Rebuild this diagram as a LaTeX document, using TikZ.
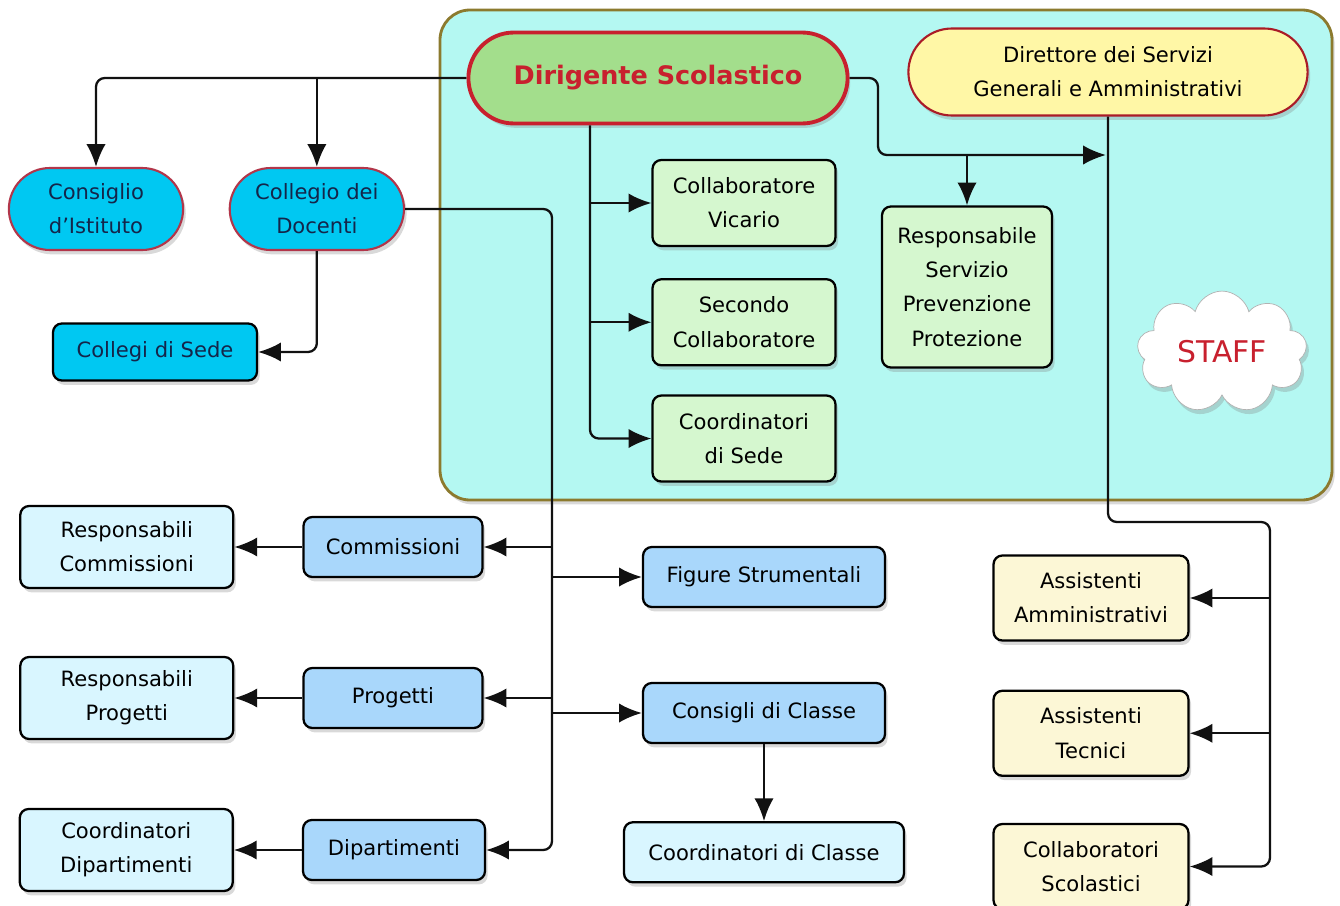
\documentclass[tikz,border=0pt]{standalone}
\usepackage{fontspec}
\setmainfont{DejaVu Sans}
\usepackage{tikz}
\usetikzlibrary{shapes.misc, shapes.symbols, arrows.meta, positioning, calc, shadows}
\definecolor{staffbg}{HTML}{B4F8F2}
\definecolor{staffline}{HTML}{8C7A2E}
\definecolor{headgreen}{HTML}{A3DE8C}
\definecolor{headred}{HTML}{C8202E}
\definecolor{dsgayellow}{HTML}{FFF7A6}
\definecolor{organcyan}{HTML}{00C8F2}
\definecolor{organline}{HTML}{B2364A}
\definecolor{inkblue}{HTML}{14254A}
\definecolor{staffgreen}{HTML}{D5F7CF}
\definecolor{areablue}{HTML}{A9D7FB}
\definecolor{respblue}{HTML}{D9F6FF}
\definecolor{atacream}{HTML}{FCF7D6}
\definecolor{darkgray}{HTML}{111111}
\tikzset{
  base/.style={
    align=center, text=black, font=\fontsize{12}{19.5}\selectfont,
    drop shadow={opacity=0.3, shadow xshift=1.5pt, shadow yshift=-2.5pt},
  },
  head/.style={
    base, rounded rectangle, draw=headred, line width=2.2pt, fill=headgreen,
    minimum width=7.82cm, minimum height=1.82cm,
    text=headred, font=\fontsize{14.5}{17}\selectfont\bfseries,
  },
  dsga/.style={
    base, rounded rectangle, draw=headred!85!black, line width=1.2pt,
    fill=dsgayellow, minimum width=8.22cm, minimum height=1.74cm,
  },
  organ/.style={
    base, rounded rectangle, draw=organline, line width=1.2pt,
    fill=organcyan, text=inkblue, minimum width=3.72cm, minimum height=1.64cm,
  },
  plainbox/.style={
    base, rectangle, rounded corners=5pt, draw=black, line width=1.3pt,
  },
  staffbox/.style={plainbox, fill=staffgreen, minimum width=3.66cm, minimum height=1.72cm},
  areabox/.style={plainbox, fill=areablue, minimum height=1.2cm},
  respbox/.style={plainbox, fill=respblue, minimum width=4.26cm, minimum height=1.64cm},
  atabox/.style={plainbox, fill=atacream, minimum width=3.9cm, minimum height=1.7cm},
  arrow/.style={-{Latex[length=13pt, width=11pt]}, line width=1.3pt, color=darkgray},
  elbow/.style={arrow, rounded corners=5pt},
}

\begin{document}
\begin{tikzpicture}[x=0.02cm, y=-0.02cm]
  \useasboundingbox (0,0) rectangle (1340,906);

  \draw[staffline, line width=1.6pt, fill=staffbg, rounded corners=0.6cm,
    drop shadow={opacity=0.3, shadow xshift=1.5pt, shadow yshift=-2.5pt}]
    (440,10) rectangle (1332,500);

  \node[head] (dirigente) at (658,78) {Dirigente Scolastico};
  \node[dsga] (dsga) at (1108,72) {Direttore dei Servizi\\Generali e Amministrativi};
  \node[organ] (consiglio) at (96,209) {Consiglio\\d’Istituto};
  \node[organ, right=0.89cm of consiglio] (collegio) {Collegio dei\\Docenti};
  \node[plainbox, fill=organcyan, text=inkblue, minimum width=4.08cm, minimum height=1.14cm] (sede) at (155,352) {Collegi di Sede};

  \node[staffbox] (vicario) at (744,203) {Collaboratore\\Vicario};
  \node[staffbox, below=0.62cm of vicario] (secondo) {Secondo\\Collaboratore};
  \node[staffbox, below=0.56cm of secondo] (coordsede) {Coordinatori\\di Sede};
  \node[staffbox, minimum width=3.4cm, minimum height=3.22cm] (rspp) at (967,287) {Responsabile\\Servizio\\Prevenzione\\Protezione};
  \node[cloud, cloud puffs=9, aspect=1.6, draw=gray!60, fill=white, minimum width=3.4cm, minimum height=2.2cm,
    text=headred, font=\fontsize{17}{20}\selectfont,
    drop shadow={opacity=0.3, shadow xshift=1.5pt, shadow yshift=-2.5pt}] (staff) at (1222,352) {STAFF};

  \node[areabox, minimum width=3.58cm] (commissioni) at (393,547) {Commissioni};
  \node[respbox, left=1.36cm of commissioni] (respcomm) {Responsabili\\Commissioni};
  \node[areabox, minimum width=3.58cm] (progetti) at (393,698) {Progetti};
  \node[respbox, left=1.36cm of progetti] (respprog) {Responsabili\\Progetti};
  \node[areabox, minimum width=3.64cm] (dipartimenti) at (394,850) {Dipartimenti};
  \node[respbox, left=1.36cm of dipartimenti] (coorddip) {Coordinatori\\Dipartimenti};
  \node[areabox, minimum width=4.84cm] (figure) at (764,577) {Figure Strumentali};
  \node[areabox, minimum width=4.84cm] (consigli) at (764,713) {Consigli di Classe};
  \node[plainbox, fill=respblue, minimum width=5.6cm, minimum height=1.2cm, below=1.54cm of consigli] (coordcl) {Coordinatori di Classe};

  \node[atabox] (assamm) at (1091,598) {Assistenti\\Amministrativi};
  \node[atabox, below=0.96cm of assamm] (asstec) {Assistenti\\Tecnici};
  \node[atabox, below=0.92cm of asstec] (collscol) {Collaboratori\\Scolastici};

  \coordinate (docbus) at (552,560);
  \coordinate (dsbus) at (590,300);
  \coordinate (dirbend) at (878,155);
  \coordinate (staffjoin) at (1106,155);
  \coordinate (atabus) at (1270,522);

  \draw[elbow] (dirigente.west) -| (consiglio.north);
  \draw[arrow] (collegio.north |- dirigente.west) -- (collegio.north);
  \draw[elbow] (collegio.south) |- (sede.east);

  \draw[elbow] (collegio.east) -| (docbus) |- (dipartimenti.east);
  \draw[arrow] (docbus |- commissioni.east) -- (commissioni.east);
  \draw[arrow] (docbus |- progetti.east) -- (progetti.east);
  \draw[arrow] (docbus |- figure.west) -- (figure.west);
  \draw[arrow] (docbus |- consigli.west) -- (consigli.west);
  \draw[arrow] (commissioni.west) -- (respcomm.east);
  \draw[arrow] (progetti.west) -- (respprog.east);
  \draw[arrow] (dipartimenti.west) -- (coorddip.east);
  \draw[arrow] (consigli.south) -- (coordcl.north);

  \draw[elbow] (dsbus |- dirigente.south) |- (coordsede.west);
  \draw[arrow] (dsbus |- vicario.west) -- (vicario.west);
  \draw[arrow] (dsbus |- secondo.west) -- (secondo.west);

  \draw[elbow] (dirigente.east) -| (dirbend) -- (staffjoin);
  \draw[arrow] (rspp.north |- staffjoin) -- (rspp.north);

  \draw[elbow] (dsga.south) |- (atabus) |- (collscol.east);
  \draw[arrow] (atabus |- assamm.east) -- (assamm.east);
  \draw[arrow] (atabus |- asstec.east) -- (asstec.east);

\end{tikzpicture}
\end{document}
